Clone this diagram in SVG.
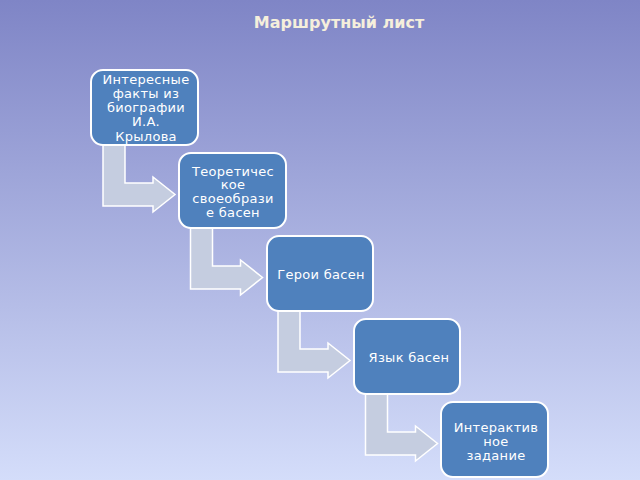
<svg xmlns="http://www.w3.org/2000/svg" width="640" height="480" viewBox="0 0 640 480">
<defs>
<linearGradient id="bg" x1="0" y1="0" x2="0" y2="1">
<stop offset="0" stop-color="#7f85c6"/>
<stop offset="1" stop-color="#d4ddfa"/>
</linearGradient>
<style>
.box{fill:#4f81bd;stroke:#ffffff;stroke-width:2}
.arrow{fill:#c5cde0;stroke:#ffffff;stroke-width:1.5}
.t{font-family:"DejaVu Sans",sans-serif;font-size:13px;fill:#ffffff;text-anchor:middle;letter-spacing:0.3px}
.title{font-family:"DejaVu Sans",sans-serif;font-size:16px;font-weight:bold;fill:#f5efdc;text-anchor:middle}
</style>
</defs>
<rect width="640" height="480" fill="url(#bg)"/>
<text class="title" x="339" y="28">Маршрутный лист</text>
<g id="connectors">
<path class="arrow" d="M103,140 H125 V183 H153 V177 L175,194.5 L153,212 V206 H103 Z"/>
<path class="arrow" d="M190.5,223 H212.5 V266 H240.5 V260 L262.5,277.5 L240.5,295 V289 H190.5 Z"/>
<path class="arrow" d="M278,306 H300 V349 H328 V343 L350,360.5 L328,378 V372 H278 Z"/>
<path class="arrow" d="M365.5,389 H387.5 V432 H415.5 V426 L437.5,443.5 L415.5,461 V455 H365.5 Z"/>
</g>
<g id="node1">
<rect class="box" x="91" y="70" width="107" height="75" rx="12"/>
<text class="t" x="146" y="83.5">Интересные</text>
<text class="t" x="146" y="97.75">факты из</text>
<text class="t" x="146" y="112">биографии</text>
<text class="t" x="146" y="126.25">И.А.</text>
<text class="t" x="146" y="140.5">Крылова</text>
</g>
<g id="node2">
<rect class="box" x="179" y="153" width="107" height="75" rx="12"/>
<text class="t" x="233" y="175.5">Теоретичес</text>
<text class="t" x="233" y="189">кое</text>
<text class="t" x="233" y="203">своеобрази</text>
<text class="t" x="233" y="217">е басен</text>
</g>
<g id="node3">
<rect class="box" x="267" y="236" width="106" height="75" rx="12"/>
<text class="t" x="321" y="278.5">Герои басен</text>
</g>
<g id="node4">
<rect class="box" x="354" y="319" width="106" height="75" rx="12"/>
<text class="t" x="409" y="361.5">Язык басен</text>
</g>
<g id="node5">
<rect class="box" x="441" y="402" width="107" height="75" rx="12"/>
<text class="t" x="496" y="431.5">Интерактив</text>
<text class="t" x="496" y="445.5">ное</text>
<text class="t" x="496" y="459.5">задание</text>
</g>
</svg>
